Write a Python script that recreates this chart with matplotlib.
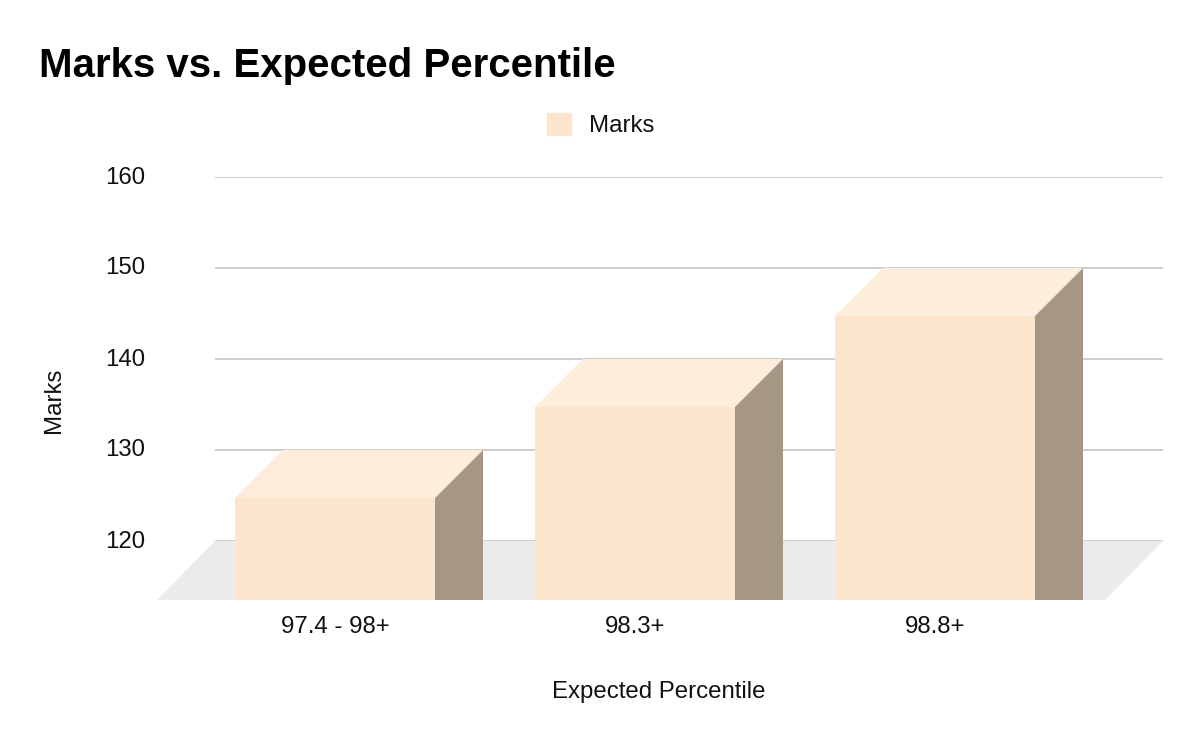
import matplotlib
matplotlib.use("Agg")
import matplotlib.pyplot as plt
from matplotlib.patches import Patch
from matplotlib.transforms import ScaledTranslation

categories = ["97.4 - 98+", "98.3+", "98.8+"]
marks = [130, 140, 150]
y_ticks = [120, 130, 140, 150, 160]

W, H = 1200, 742
plt.rcParams["font.family"] = ["Liberation Sans", "DejaVu Sans"]
FS = 17.3
TXT = "#111111"

fig = plt.figure(figsize=(W / 100, H / 100), dpi=100)
L, R, T, B = 215, 1163, 177, 541
ax = fig.add_axes([L / W, 1 - B / H, (R - L) / W, (B - T) / H])
x_scale = 300.0
ax.set_xlim((L - 383) / x_scale, (R - 383) / x_scale)
ax.set_ylim(120, 160)
y_scale = (B - T) / 40.0

bar_dx, bar_dy = 48 / x_scale, 48 / y_scale
floor_dx, floor_dy = 58 / x_scale, 59 / y_scale
half = (200 / x_scale) / 2
x0, x1 = ax.get_xlim()
base = 120 - floor_dy

ax.set_axisbelow(True)
ax.grid(axis="y", color="#c6c6c6", linewidth=1.2, zorder=1)
ax.fill([x0, x1, x1 - floor_dx, x0 - floor_dx], [120, 120, base, base],
        color="#ebebeb", lw=0, clip_on=False, zorder=0.5)

for i, v in enumerate(marks):
    fx = i - bar_dx
    ft = v - bar_dy
    ax.fill([fx - half, fx + half, fx + half, fx - half], [base, base, ft, ft],
            color="#fce5cd", lw=0, clip_on=False, zorder=3)
    ax.fill([fx - half, fx + half, i + half, i - half], [ft, ft, v, v],
            color="#fdedda", lw=0, clip_on=False, zorder=3)
    ax.fill([fx + half, i + half, i + half, fx + half], [ft, v, base, base],
            color="#a69684", lw=0, clip_on=False, zorder=3)

ax.set_yticks(y_ticks)
ax.set_xticks([i - bar_dx for i in range(len(categories))])
ax.set_xticklabels(categories, fontsize=FS, color=TXT)
ax.tick_params(axis="x", length=0, pad=54)
ax.tick_params(axis="y", length=0, pad=50.5, labelsize=FS, labelcolor=TXT)
up = ScaledTranslation(0, 2 / 100, fig.dpi_scale_trans)
for lab in ax.get_yticklabels():
    lab.set_transform(lab.get_transform() + up)
for s in ax.spines.values():
    s.set_visible(False)

ax.set_xlabel("Expected Percentile", fontsize=FS, color=TXT)
ax.xaxis.set_label_coords(659 / W, 1 - 681 / H, transform=fig.transFigure)
ax.set_ylabel("Marks", fontsize=FS, color=TXT)
ax.yaxis.set_label_coords(65 / W, 1 - 400 / H, transform=fig.transFigure)

fig.text(39 / W, 1 - 66 / H, "Marks vs. Expected Percentile", fontsize=28.95,
         fontweight="bold", color="black", ha="left", va="center")

fig.legend(handles=[Patch(color="#fce5cd", label="Marks")], loc="center",
           bbox_to_anchor=(601 / W, 1 - 125 / H), frameon=False, fontsize=FS,
           labelcolor=TXT, handlelength=1.0, handleheight=1.0,
           handletextpad=0.75, borderpad=0, borderaxespad=0)

fig.savefig("out.png", dpi=100)
